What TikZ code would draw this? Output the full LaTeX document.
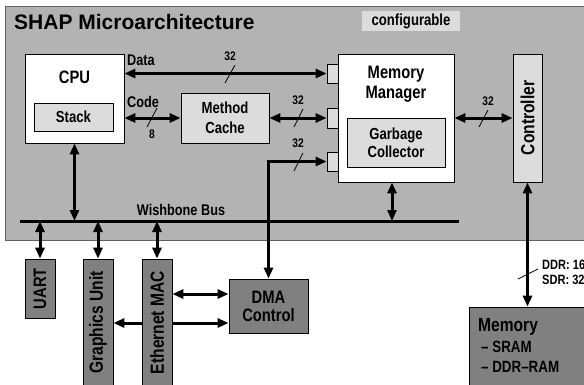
\documentclass[tikz,border=0pt]{standalone}
\usepackage{fontspec}
\setmainfont{Liberation Sans}
\newfontfamily\nfont{Liberation Sans}[FakeStretch=0.82]
\usetikzlibrary{arrows.meta}
\definecolor{cMain}{HTML}{B3B3B3}
\definecolor{cLight}{HTML}{DCDCDC}
\definecolor{cDark}{HTML}{808080}
\definecolor{cBorder}{HTML}{606060}
\tikzset{
  box/.style={draw=black, line width=0.8pt, inner sep=0pt, align=center},
  whitebox/.style={box, fill=white},
  lightbx/.style={box, fill=cLight},
  darkbx/.style={box, fill=cDark},
  conn/.style={line width=3pt, {Triangle[length=11pt,width=9pt]}-{Triangle[length=11pt,width=9pt]}},
  slash/.style={line width=0.8pt},
  tbig/.style={inner sep=0pt, align=center, font=\nfont\fontsize{18}{20}\selectfont\bfseries},
  tvert/.style={inner sep=0pt, align=center, font=\nfont\fontsize{19}{20}\selectfont\bfseries},
  tmid/.style={inner sep=0pt, align=center, font=\nfont\fontsize{18}{18}\selectfont\bfseries},
  tsmall/.style={align=center, font=\nfont\fontsize{16}{20}\selectfont\bfseries},
  tgc/.style={align=center, font=\nfont\fontsize{16}{18}\selectfont\bfseries},
  tlbl/.style={inner sep=0pt, font=\nfont\fontsize{15.5}{18}\selectfont\bfseries},
  tnum/.style={inner sep=0pt, font=\nfont\fontsize{12.5}{14}\selectfont\bfseries},
}
\begin{document}
\begin{tikzpicture}[x=1pt,y=-1pt]
\useasboundingbox (0,0) rectangle (584,384);
\clip (0,0) rectangle (584,384);
% main area
\fill[cMain] (5,6) rectangle (600,240);
\draw[cBorder, line width=1pt] (600,6) -- (5,6) -- (5,240) -- (600,240);
\node[anchor=west, inner sep=0pt, font=\fontsize{21}{24}\selectfont\bfseries] (title) at (14,22) {SHAP Microarchitecture};
\node[fill=cLight, minimum width=98pt, minimum height=20pt, inner sep=0pt, font=\nfont\fontsize{16}{18}\selectfont\bfseries] (conf) at (411,21) {configurable};

% CPU
\node[whitebox, minimum width=99pt, minimum height=89pt] (cpu) at (74.5,98.5) {};
\node[tbig] (cputxt) at (74.5,77) {CPU};
\node[lightbx, tsmall, minimum width=79pt, minimum height=28pt] (stack) at (73.5,117) {Stack};

% Method cache
\node[lightbx, tsmall, minimum width=88pt, minimum height=50pt] (mc) at (225,118) {Method\\Cache};

% Memory manager
\node[whitebox, minimum width=116pt, minimum height=128pt] (mm) at (396,118) {};
\node[tbig] (mmtxt) at (396,84) {Memory\\Manager};
\node[lightbx, tgc, minimum width=98pt, minimum height=49pt] (gc) at (396,142.5) {Garbage\\Collector};
\node[lightbx, minimum width=11pt, minimum height=19pt] (p1) at (332.5,73.5) {};
\node[lightbx, minimum width=11pt, minimum height=20pt] (p2) at (332.5,118) {};
\node[lightbx, minimum width=11pt, minimum height=19pt] (p3) at (332.5,161.5) {};

% Controller
\node[lightbx, minimum width=29pt, minimum height=128pt] (ctrl) at (527.5,118) {};
\node[tvert, rotate=90] (ctrltxt) at (ctrl.center) {Controller};

% bus
\coordinate (busL) at (20,221);
\coordinate (busR) at (459,221);
\draw[line width=3pt] (busL) -- (busR);
\node[tlbl] (bustxt) at (181,210) {Wishbone Bus};

% internal connectors
\draw[conn] (p1.west) -- (p1.west -| cpu.east);
\node[tlbl, anchor=west] (datatxt) at (127,60) {Data};
\node[tnum] (n1) at (230,56) {32};
\draw[slash] (225,83) -- (235,65);

\draw[conn] (cpu.east |- mc.west) -- (mc.west);
\node[tlbl, anchor=west] (codetxt) at (127,102) {Code};
\node[tnum] (n2) at (152,134) {8};
\draw[slash] (147,127) -- (157,108);

\draw[conn] (mc.east) -- (p2.west);
\node[tnum] (n3) at (298,100) {32};
\draw[slash] (294,127) -- (303,109);

\draw[conn] (mm.east) -- (ctrl.west);
\node[tnum] (n4) at (488,101) {32};
\draw[slash] (479,127) -- (488,110);

\draw[conn] (cpu.south) -- (cpu.south |- busL);
\draw[conn] ([xshift=-4pt]mm.south) -- ([xshift=-4pt]mm.south |- busL);

% peripherals
\node[darkbx, minimum width=30pt, minimum height=59pt] (uart) at (40,288.5) {};
\node[tmid, rotate=90] (uarttxt) at (uart.center) {UART};
\node[darkbx, minimum width=30pt, minimum height=142pt] (gfx) at (98,330) {};
\node[tvert, rotate=90] (gfxtxt) at (98,322.5) {Graphics Unit};
\node[darkbx, tmid, minimum width=79pt, minimum height=54pt] (dma) at (268.5,306) {DMA\\Control};
\coordinate (r1) at (0,294);
\coordinate (r2) at (0,323);
\draw[conn] (gfx.east |- r2) -- (dma.west |- r2);
\node[darkbx, minimum width=30pt, minimum height=142pt] (eth) at (157,330) {};
\node[tvert, rotate=90] (ethtxt) at (157,322.5) {Ethernet MAC};
\draw[conn] (eth.east |- r1) -- (dma.west |- r1);

\draw[conn] (uart.north) -- (uart.north |- busL);
\draw[conn] (gfx.north) -- (gfx.north |- busL);
\draw[conn] (eth.north) -- (eth.north |- busL);

\draw[conn] (dma.north) |- (p3.west);
\node[tnum] (n5) at (298,143) {32};
\draw[slash] (294,171) -- (303,153);

% memory
\node[darkbx, minimum width=140pt, minimum height=98pt] (mem) at (539,356) {};
\node[inner sep=0pt, anchor=west, font=\nfont\fontsize{19}{20}\selectfont\bfseries] (memtxt) at (478,327) {Memory};
\node[inner sep=0pt, anchor=west, font=\nfont\fontsize{16.3}{18}\selectfont\bfseries] (memsram) at (481,347) {\textendash{} SRAM};
\node[inner sep=0pt, anchor=west, font=\nfont\fontsize{16.3}{18}\selectfont\bfseries] (memddr) at (481,367) {\textendash{} DDR\textendash RAM};
\draw[conn] (ctrl.south) -- (ctrl.south |- mem.north);
\draw[slash] (518,279) -- (538,269);
\node[inner sep=0pt, anchor=west, align=left, font=\nfont\fontsize{13.5}{15}\selectfont\bfseries] (ddrtxt) at (542,272) {DDR: 16\\SDR: 32};
\end{tikzpicture}
\end{document}
